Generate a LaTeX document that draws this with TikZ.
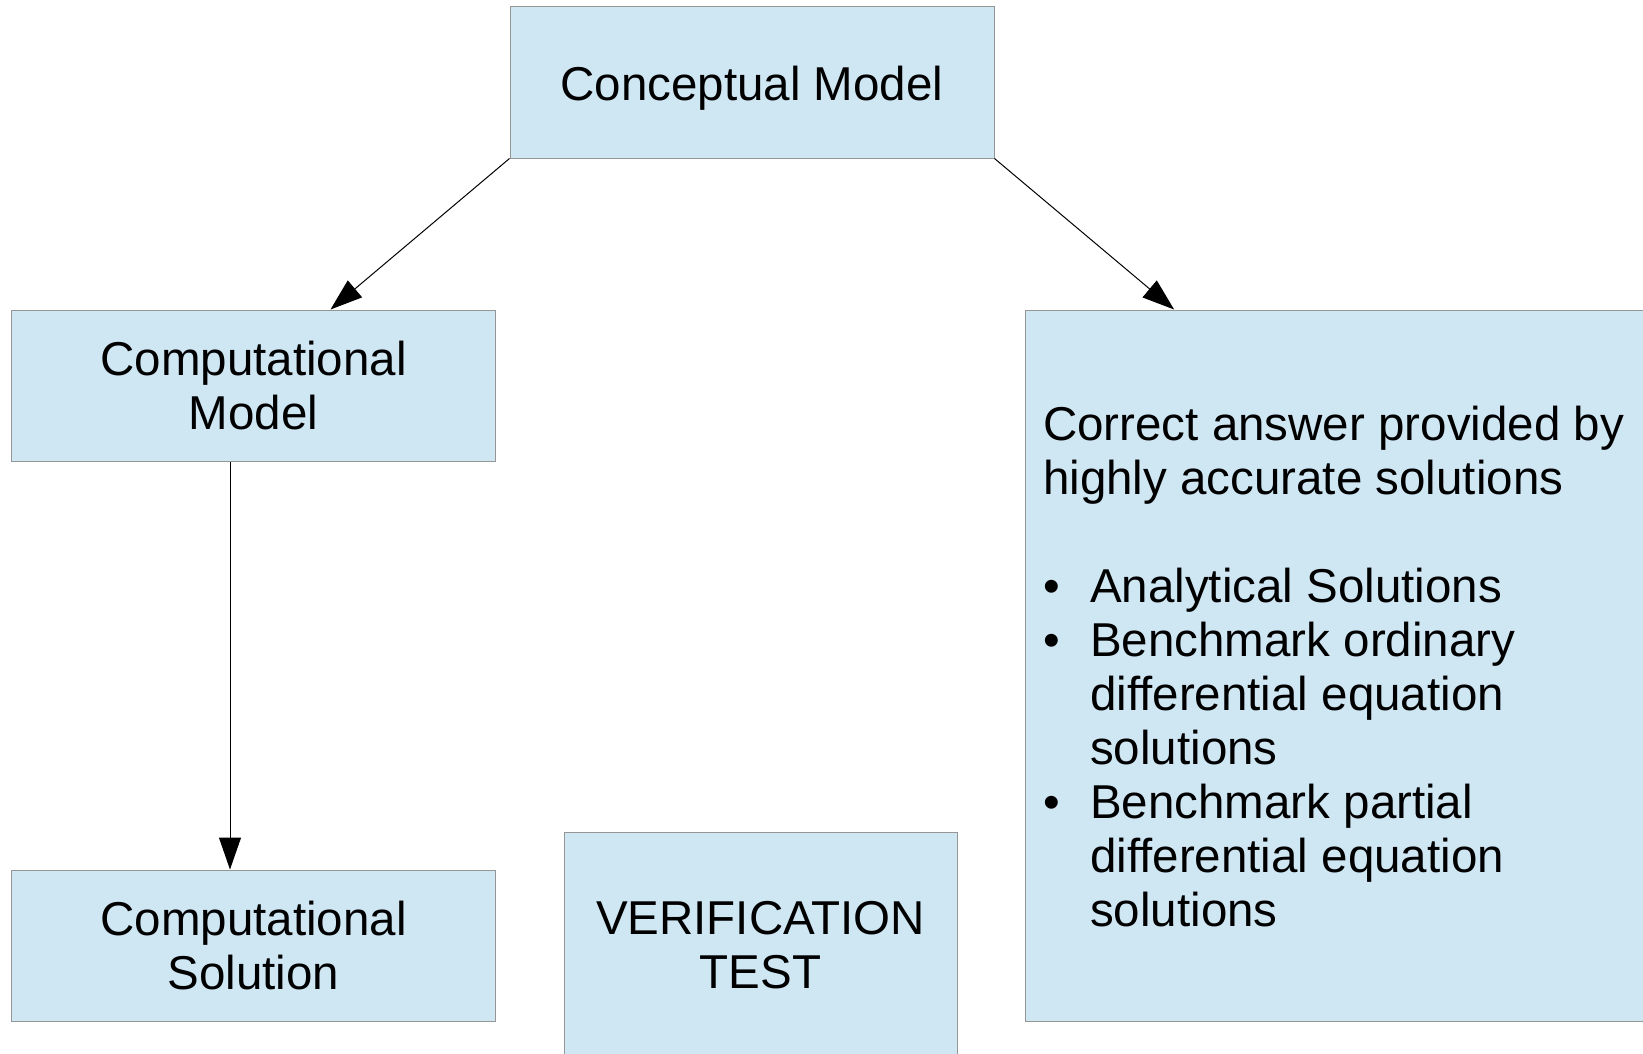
\documentclass[tikz,border=0pt]{standalone}
\usepackage{fontspec}
\setmainfont{Liberation Sans}
\usetikzlibrary{arrows.meta,calc}
\definecolor{boxfill}{RGB}{207,230,243}
\definecolor{boxline}{RGB}{150,150,150}
\begin{document}
\begin{tikzpicture}[x=1pt,y=-1pt,
  box/.style={draw=boxline, fill=boxfill, line width=1pt, rectangle, inner sep=0pt,
    align=center, font=\fontsize{47.5}{54}\selectfont},
  listtext/.style={inner sep=0pt, align=left, font=\fontsize{47.5}{54}\selectfont},
  conn/.style={draw=black, line width=1pt, -{Triangle[length=32pt,width=22pt]}}]
\useasboundingbox (0,0) rectangle (1643,1054);
\clip (0,0) rectangle (1643,1054);
\node[box, minimum width=484pt, minimum height=151pt] (concept) at (752,82.5) {\raisebox{-18.5pt}[0pt][0pt]{Conceptual Model}};
\node[box, minimum width=484pt, minimum height=151pt] (cmod) at (253.5,385.5) {Computational\\Model};
\node[box, minimum width=484pt, minimum height=151pt] (csol) at (253.5,945.5) {Computational\\Solution};
\node[box, minimum width=393pt, minimum height=226pt] (verif) at (760.5,945) {VERIFICATION\\TEST};
\node[box, minimum width=640pt, minimum height=711pt] (answer) at (1345,665.5) {};
\node[listtext, anchor=north west] (answertext) at (1043,405.5) {%
Correct answer provided by\\
highly accurate solutions\\[54pt]
\makebox[47pt][l]{•}Analytical Solutions\\
\makebox[47pt][l]{•}Benchmark ordinary\\
\hspace*{47pt}differential equation\\
\hspace*{47pt}solutions\\
\makebox[47pt][l]{•}Benchmark partial\\
\hspace*{47pt}differential equation\\
\hspace*{47pt}solutions};
\coordinate (lefttip) at ($(cmod.north west)+(319.5,0)$);
\coordinate (righttip) at ($(answer.north west)+(149.6,0)$);
\coordinate (vstart) at ($(cmod.south west)+(219,0)$);
\coordinate (vend) at ($(csol.north west)+(219,0)$);
\draw[conn] (concept.south west) -- (lefttip);
\draw[conn] (concept.south east) -- (righttip);
\draw[conn] (vstart) -- (vend);
\end{tikzpicture}
\end{document}
